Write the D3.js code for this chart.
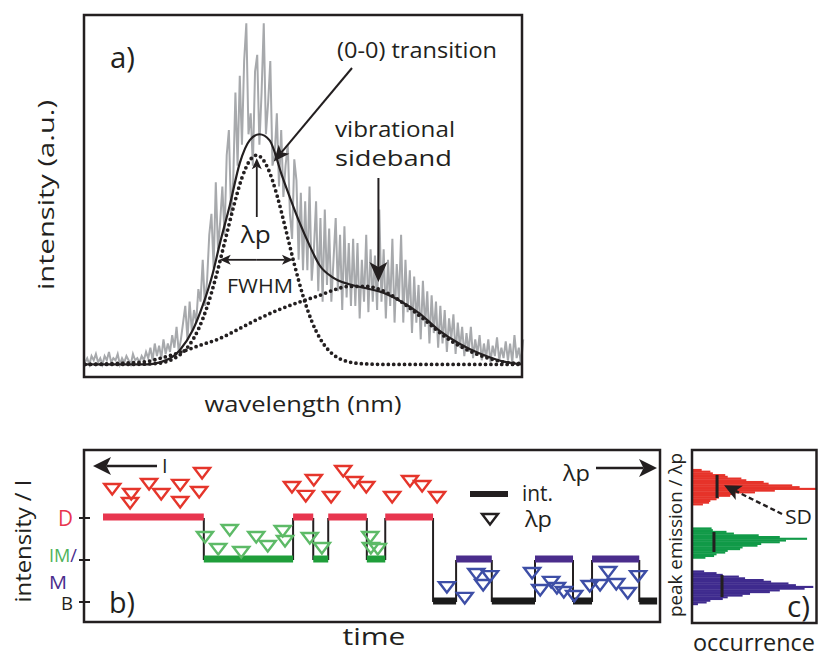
<!DOCTYPE html>
<html>
<head>
<meta charset="utf-8">
<script src="https://cdn.jsdelivr.net/npm/d3@7"></script>
<style>
  body { margin: 0; background: #fff; }
  text { font-family: "Open Sans", sans-serif; }
</style>
</head>
<body>
<svg id="fig" width="818" height="657"></svg>
<script>
const ink = "#231f20";

// ---- a) spectrum, wavelength in arbitrary units across the frame, intensity relative to the 0-0 peak
const spectrumStart = 0;
const spectrumStep = 0.5;
const spectrum = [
  0.01,0.03,0.0,0.04,0.02,0.05,0.01,0.03,0.0,0.04,0.02,0.06,0.01,0.03,0.02,0.05,0.0,0.03,0.01,0.04,
  0.02,0.0,0.05,0.02,0.03,0.01,0.04,0.02,0.06,
  0.03,0.08,0.02,0.1,0.04,0.09,0.03,0.12,0.05,0.1,0.06,0.14,
  0.08,0.18,0.06,0.12,0.2,0.28,0.12,0.3,0.16,0.26,0.2,0.36,
  0.3,0.5,0.28,0.4,0.62,0.72,0.46,0.87,
  0.55,0.68,0.85,0.62,1.0,1.12,0.72,0.88,1.3,0.95,
  1.38,1.05,1.45,1.63,1.1,1.2,0.95,1.4,1.48,1.05,
  1.3,1.63,1.1,1.25,1.45,0.95,1.0,1.2,0.85,1.12,
  0.8,0.95,1.05,0.72,0.6,0.98,0.88,0.5,0.82,0.45,
  0.78,0.45,0.85,0.4,0.55,0.78,0.35,0.7,0.3,0.74,0.38,0.65,0.3,0.5,0.7,0.35,0.62,0.26,0.66,0.32,
  0.58,0.28,0.6,0.28,0.58,0.22,0.5,0.3,0.62,0.25,
  0.55,0.3,0.52,0.26,0.74,0.3,0.55,0.22,0.5,0.28,
  0.6,0.2,0.48,0.3,0.62,0.2,0.5,0.25,0.45,0.15,
  0.42,0.2,0.38,0.12,0.4,0.18,0.35,0.1,0.33,0.15,
  0.3,0.08,0.28,0.1,0.26,0.06,0.22,0.12,0.24,0.05,
  0.2,0.08,0.18,0.04,0.15,0.06,0.18,0.03,0.12,0.05,
  0.14,0.02,0.1,0.03,0.12,0.01,0.09,0.04,0.13,0.02,
  0.08,0.03,0.11,0.02,0.1,0.01,0.14,0.03,0.08,0.0,0.12
];

const fitWl = [0,14.2,17.2,21.7,24.7,27.0,29.3,30.9,33.2,35.5,37.8,40.0,42.3,45.3,49.2,51.5,53.8,56.8,60.6,64.5,67.5,72.1,76.7,81.2,85.8,90.4,95.0,100];
const fitI  = [0,0,0.01,0.067,0.163,0.282,0.435,0.575,0.76,0.962,1.072,1.10,1.072,0.895,0.679,0.569,0.474,0.416,0.383,0.364,0.349,0.306,0.244,0.163,0.100,0.053,0.019,0];

const zeroWl = [0,10,16,20,22,24,26,28,30,32,34,36,38,39.4,40,42,44,46,48,50,52,54,56,58,60,64,70,100];
const zeroI  = [0,0,0.004,0.024,0.05,0.095,0.168,0.275,0.416,0.581,0.748,0.892,0.981,1.0,0.996,0.935,0.811,0.649,0.48,0.328,0.207,0.121,0.065,0.032,0.015,0.003,0,0];

const vibWl = [0,8.0,14.2,17.2,21.7,26.3,30.9,35.5,40.0,44.6,50.3,53.8,56.8,60.6,64.5,69.1,73.7,78.3,82.8,87.4,92.0,96.6,100];
const vibI  = [0,0.005,0.014,0.029,0.057,0.091,0.124,0.172,0.220,0.263,0.306,0.330,0.354,0.373,0.373,0.344,0.282,0.206,0.129,0.072,0.033,0.010,0.005];

const lambdaPeak = 39.4;
const fwhmEdges = [30.9, 47.7];
const sidebandPeak = 67.3;

// ---- b) intensity trace (time 0-100) and peak positions
const segStart = [3.3, 20.8, 36.3, 39.8, 42.4, 49.1, 52.3, 60.6, 64.6, 70.8, 78.3, 84.9, 88.2, 96.4];
const segEnd   = [20.8, 36.3, 39.8, 42.4, 49.1, 52.3, 60.6, 64.6, 70.8, 78.3, 84.9, 88.2, 96.4, 99.5];
const segState = ["D","IM","D","IM","D","IM","D","B","M","B","M","B","M","B"];
const stateLevel = { D: 3, IM: 2, M: 2, B: 1 };
const stateColor = { D: "#e8364f", IM: "#1f9e3a", M: "#4a2d8c", B: "#1a1a1a" };

const redPeaks = [[4.9,77.3],[8.2,74.4],[8.0,69.2],[11.3,80.2],[13.4,74.4],[16.7,79.7],[16.7,69.8],[20.0,75.6],[20.5,86.6],
  [36.1,78.5],[38.5,73.3],[39.9,82.6],[42.9,72.7],[45.0,87.8],[46.9,81.4],[49.0,78.5],[53.5,72.7],[56.6,82.0],[58.7,79.1],[61.3,72.7]];
const greenPeaks = [[21.0,49.4],[23.3,42.4],[25.3,53.5],[27.3,40.7],[29.9,49.4],[31.9,44.2],[34.5,52.9],[34.9,47.1],
  [39.2,48.8],[41.3,43.0],[49.7,49.4],[49.8,43.0],[51.0,42.4]];
const bluePeaks = [[63.0,20.3],[66.1,14.0],[68.1,27.9],[69.3,21.5],[70.5,26.7],[77.8,28.5],[79.2,18.6],[81.1,23.3],[82.1,19.8],
  [83.3,17.4],[85.1,15.1],[87.8,20.9],[89.6,21.5],[91.0,29.1],[92.4,22.1],[94.4,16.9],[96.2,26.7]];

// ---- c) histograms of the peak position (1 unit bins)
const histRedStart = 68;
const histRed = [8,13,14,19,21,30,33,50,66,100,86,80,61,57,43,39,28,26,16,14,7];
const histGreenStart = 37;
const histGreen = [10,17,19,26,28,38,40,52,55,70,75,92,70,53,33,27,16,15];
const histBlueStart = 10;
const histBlue = [4,11,14,24,28,40,46,62,70,90,97,83,77,63,57,42,37,24,19,9];
const sdOcc = [19.4, 16.9, 23.4];
const sdLo  = [72.1, 40.7, 14.5];
const sdHi  = [85.5, 52.3, 27.3];

const svg = d3.select("#fig");

// text helper; len stretches the text to the width it has in the original
function label(g, x, y, str, size, opts) {
  opts = opts || {};
  const t = g.append("text")
    .attr("transform", opts.rotate ? `translate(${x},${y}) rotate(-90)` : `translate(${x},${y})`)
    .attr("text-anchor", opts.anchor || "start")
    .attr("font-size", size)
    .attr("fill", opts.fill || ink)
    .text(str);
  if (opts.len) t.attr("textLength", opts.len).attr("lengthAdjust", "spacingAndGlyphs");
  return t;
}

// line with a notched, filled arrow head at (x2, y2)
function arrow(g, x1, y1, x2, y2, len, half, width, dash) {
  const a = Math.atan2(y2 - y1, x2 - x1);
  const cx = Math.cos(a), sy = Math.sin(a);
  const bx = x2 - len * cx, by = y2 - len * sy;
  const nx = x2 - len * 0.75 * cx, ny = y2 - len * 0.75 * sy;
  g.append("line")
    .attr("x1", x1).attr("y1", y1).attr("x2", nx).attr("y2", ny)
    .attr("stroke", ink).attr("stroke-width", width)
    .attr("stroke-dasharray", dash || null);
  g.append("path")
    .attr("d", `M${x2},${y2}L${bx - sy * half},${by + cx * half}L${nx},${ny}L${bx + sy * half},${by - cx * half}Z`)
    .attr("fill", ink);
}

// ================= panel a =================
const xA = d3.scaleLinear().domain([0, 100]).range([85, 521]);
const yA = d3.scaleLinear().domain([-0.06, 1.67]).range([377, 15]);
const gA = svg.append("g");

gA.append("path")
  .datum(spectrum)
  .attr("d", d3.line().x((d, i) => xA(spectrumStart + i * spectrumStep)).y(d => yA(d)))
  .attr("fill", "none")
  .attr("stroke", "#a7a9ac")
  .attr("stroke-width", 2);

const smooth = d3.line().x(d => xA(d[0])).y(d => yA(d[1])).curve(d3.curveMonotoneX);
const pairs = (xs, ys) => xs.map((v, i) => [v, ys[i]]);

[pairs(zeroWl, zeroI), pairs(vibWl, vibI)].forEach(function(pts) {
  gA.append("path")
    .datum(pts)
    .attr("d", smooth)
    .attr("fill", "none")
    .attr("stroke", ink)
    .attr("stroke-width", 3.8)
    .attr("stroke-linecap", "round")
    .attr("stroke-dasharray", "0 5.4");
});

gA.append("path")
  .datum(pairs(fitWl, fitI))
  .attr("d", smooth)
  .attr("fill", "none")
  .attr("stroke", ink)
  .attr("stroke-width", 2.2);

gA.append("rect")
  .attr("x", 84).attr("y", 15).attr("width", 438).attr("height", 362)
  .attr("fill", "none").attr("stroke", ink).attr("stroke-width", 2.5);

label(gA, 110, 68, "a)", 30, { len: 25 });
label(gA, 337, 58, "(0-0) transition", 22, { len: 160 });
arrow(gA, 352, 68, xA(43.3), yA(0.97), 16, 7, 2);
label(gA, 335, 137, "vibrational", 22, { len: 120 });
label(gA, 335, 166, "sideband", 22, { len: 117 });
arrow(gA, xA(sidebandPeak), 178, xA(sidebandPeak), yA(0.385) - 2, 20, 9, 2);
arrow(gA, xA(lambdaPeak), 217, xA(lambdaPeak), yA(1.0) + 3, 11, 5, 1.8);
label(gA, xA(lambdaPeak) - 1, 243, "λp", 24, { anchor: "middle", len: 30 });
arrow(gA, xA(lambdaPeak), yA(0.5), xA(fwhmEdges[0]), yA(0.5), 11, 5, 1.8);
arrow(gA, xA(lambdaPeak), yA(0.5), xA(fwhmEdges[1]), yA(0.5), 11, 5, 1.8);
label(gA, 260, 293, "FWHM", 20, { anchor: "middle", len: 66 });
label(gA, 54, 195, "intensity (a.u.)", 22, { anchor: "middle", rotate: true, len: 190 });
label(gA, 303, 412, "wavelength (nm)", 22, { anchor: "middle", len: 197 });

// ================= panel b =================
const xB = d3.scaleLinear().domain([0, 100]).range([84, 660]);
const yInt = d3.scaleLinear().domain([1, 3]).range([602, 518]);
const yLp = d3.scaleLinear().domain([0, 100]).range([622, 450]);
const gB = svg.append("g");

// jumps between states
gB.selectAll("line.jump")
  .data(segStart.slice(1))
  .enter()
  .append("line")
  .attr("class", "jump")
  .attr("x1", d => xB(d)).attr("x2", d => xB(d))
  .attr("y1", (d, i) => yInt(stateLevel[segState[i]]))
  .attr("y2", (d, i) => yInt(stateLevel[segState[i + 1]]))
  .attr("stroke", ink).attr("stroke-width", 2);

gB.selectAll("line.band")
  .data(segState)
  .enter()
  .append("line")
  .attr("class", "band")
  .attr("x1", (d, i) => xB(segStart[i]))
  .attr("x2", (d, i) => xB(segEnd[i]))
  .attr("y1", d => yInt(stateLevel[d]) - 1)
  .attr("y2", d => yInt(stateLevel[d]) - 1)
  .attr("stroke", d => stateColor[d])
  .attr("stroke-width", 7);

const tri = "M-8,-5L8,-5L0,5.5Z";
function peaks(pts, color) {
  gB.append("g").selectAll("path")
    .data(pts)
    .enter()
    .append("path")
    .attr("d", tri)
    .attr("transform", d => `translate(${xB(d[0])},${yLp(d[1])})`)
    .attr("fill", "none")
    .attr("stroke", color)
    .attr("stroke-width", 2.4);
}
peaks(redPeaks, "#e5352b");
peaks(greenPeaks, "#5dba67");
peaks(bluePeaks, "#3d4ea6");

gB.append("rect")
  .attr("x", 84).attr("y", 450).attr("width", 576).attr("height", 172)
  .attr("fill", "none").attr("stroke", ink).attr("stroke-width", 2.5);

gB.selectAll("line.tick")
  .data([1, 2, 3])
  .enter()
  .append("line")
  .attr("class", "tick")
  .attr("x1", 79).attr("x2", 90)
  .attr("y1", d => yInt(d)).attr("y2", d => yInt(d))
  .attr("stroke", ink).attr("stroke-width", 2);

label(gB, 73, yInt(3) + 8, "D", 21, { anchor: "end", fill: "#e8364f", len: 15 });
const im = label(gB, 49, 562, "", 19, { len: 28 });
im.append("tspan").attr("fill", "#4fb35a").text("IM");
im.append("tspan").attr("fill", "#4a2d8c").text("/");
label(gB, 49, 589, "M", 19, { fill: "#4a2d8c", len: 18 });
label(gB, 73, yInt(1) + 8, "B", 19, { anchor: "end", len: 12 });
label(gB, 31, 541, "intensity / I", 21, { anchor: "middle", rotate: true, len: 123 });
label(gB, 109, 613, "b)", 30, { len: 26 });
label(gB, 374, 645, "time", 23, { anchor: "middle", len: 63 });

arrow(gB, 157, 466, 93, 466, 18, 9, 2.4);
label(gB, 162, 473, "I", 20);
label(gB, 563, 481, "λp", 22, { len: 27 });
arrow(gB, 596, 468, 657, 468, 18, 9, 2.4);

gB.append("line")
  .attr("x1", 470).attr("x2", 508).attr("y1", 494).attr("y2", 494)
  .attr("stroke", ink).attr("stroke-width", 6);
label(gB, 522, 501, "int.", 21, { len: 31 });
gB.append("path").attr("d", tri).attr("transform", "translate(490,519)")
  .attr("fill", "none").attr("stroke", ink).attr("stroke-width", 2.4);
label(gB, 525, 527, "λp", 21, { len: 27 });

// ================= panel c =================
const xOcc = d3.scaleLinear().domain([0, 100]).range([693, 817]);
const gC = svg.append("g");

function hist(start, counts, color) {
  gC.append("g").selectAll("rect")
    .data(counts)
    .enter()
    .append("rect")
    .attr("x", xOcc(0))
    .attr("y", (d, i) => yLp(start + i + 1))
    .attr("width", d => xOcc(d) - xOcc(0))
    .attr("height", yLp(0) - yLp(1) + 0.4)
    .attr("fill", color);
}
hist(histRedStart, histRed, "#e6332a");
hist(histGreenStart, histGreen, "#119a48");
hist(histBlueStart, histBlue, "#3f2b8e");

gC.selectAll("line.sd")
  .data(sdOcc)
  .enter()
  .append("line")
  .attr("class", "sd")
  .attr("x1", d => xOcc(d)).attr("x2", d => xOcc(d))
  .attr("y1", (d, i) => yLp(sdLo[i])).attr("y2", (d, i) => yLp(sdHi[i]))
  .attr("stroke", ink).attr("stroke-width", 3);

arrow(gC, 782, 514, xOcc(sdOcc[0]) + 7, yLp(79.5), 17, 8, 2.4, "5 3");
label(gC, 785, 524, "SD", 20, { len: 27 });
label(gC, 787, 617, "c)", 30, { len: 23 });

gC.append("rect")
  .attr("x", 692).attr("y", 450).attr("width", 124.5).attr("height", 173)
  .attr("fill", "none").attr("stroke", ink).attr("stroke-width", 2.5);

label(gC, 682, 535, "peak emission / λp", 19, { anchor: "middle", rotate: true, len: 164 });
label(gC, 754, 651, "occurrence", 23, { anchor: "middle", len: 122 });
</script>
</body>
</html>
